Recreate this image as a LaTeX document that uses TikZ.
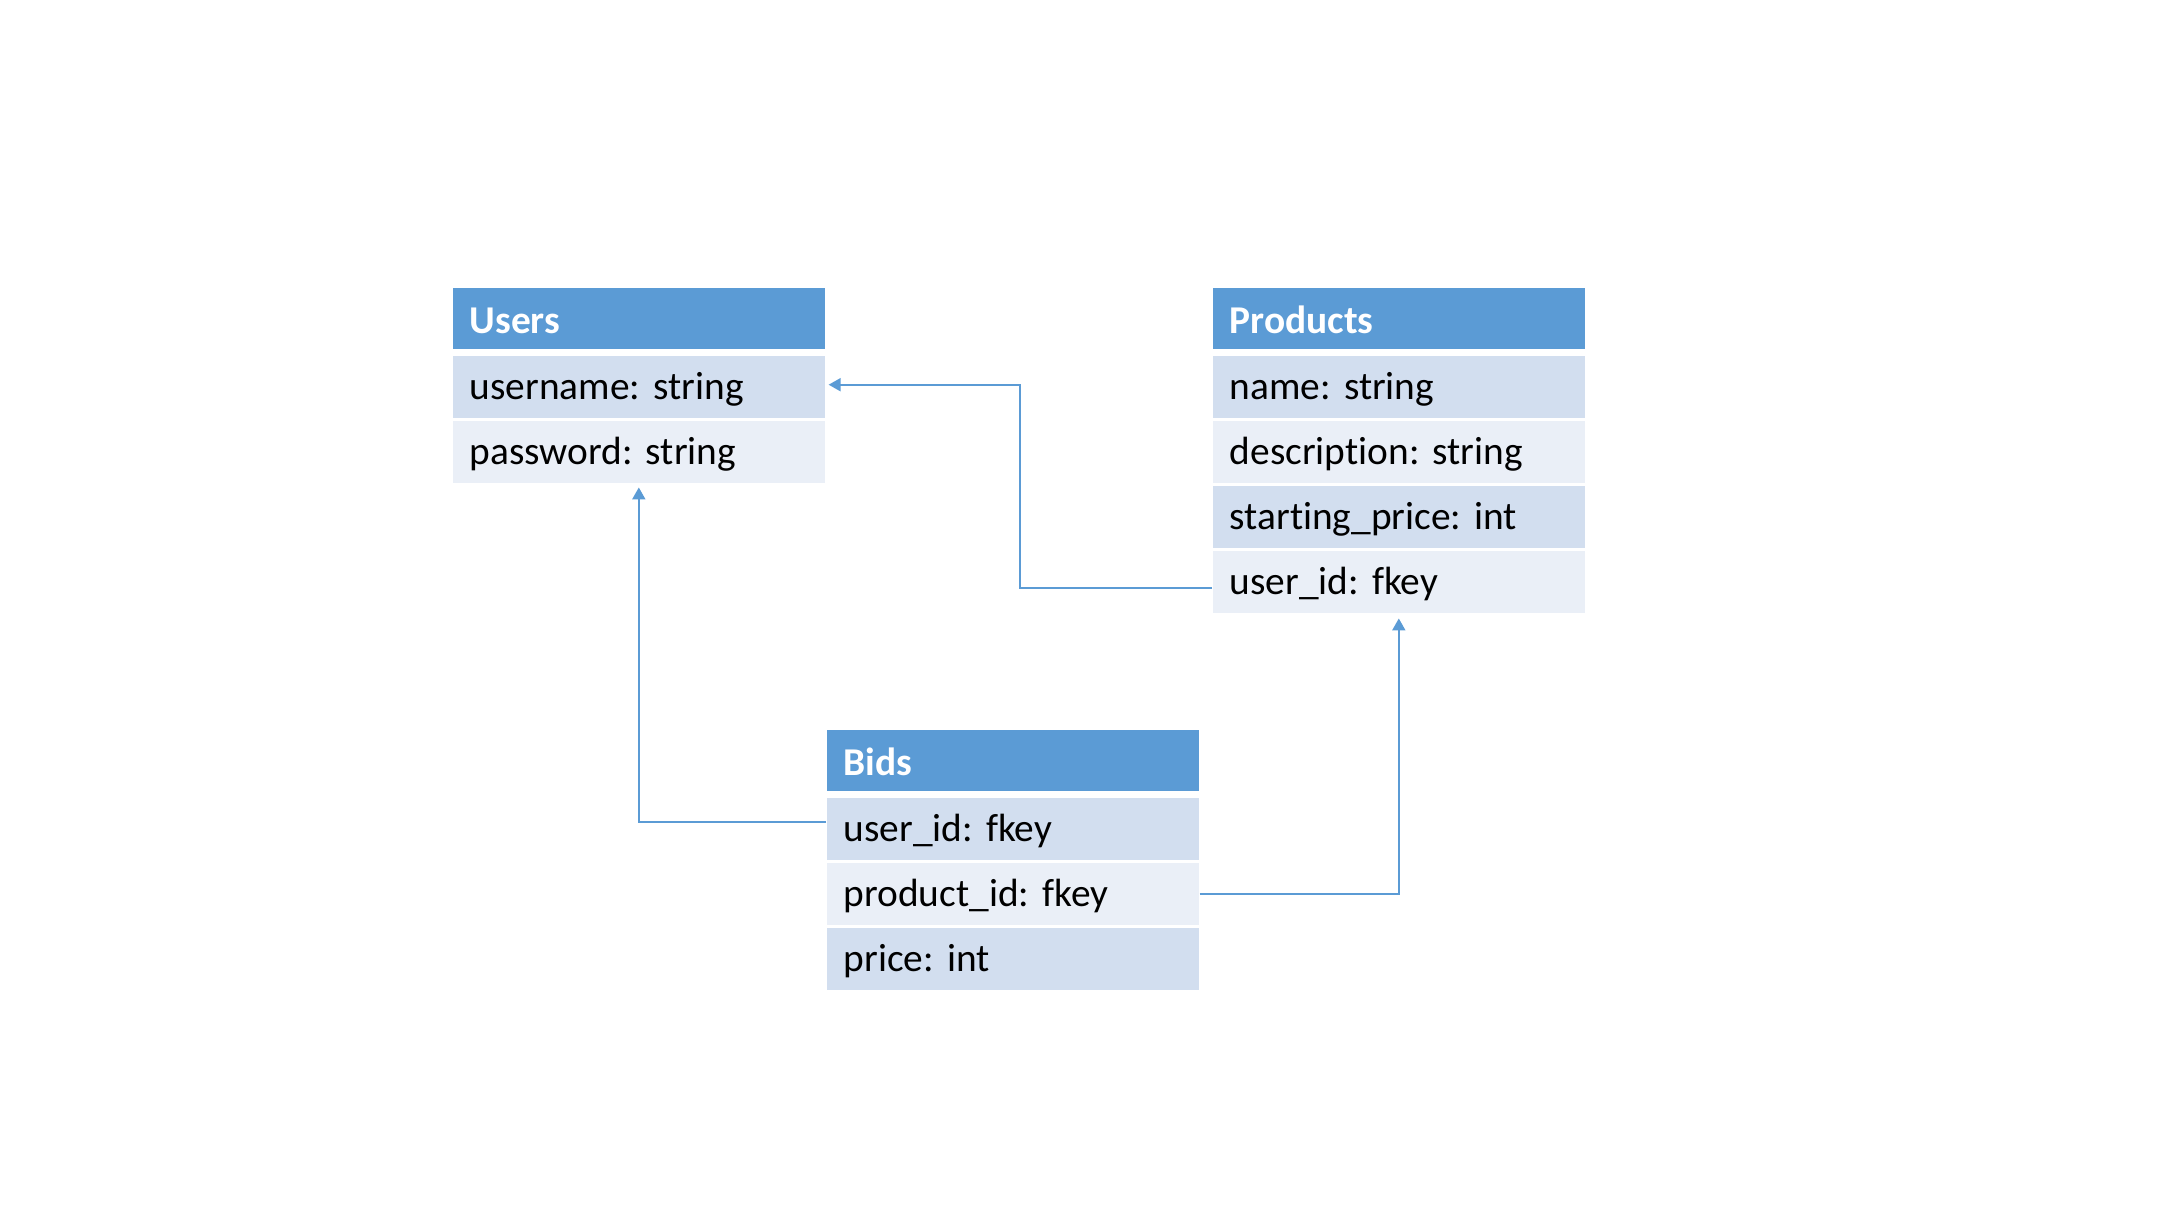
\documentclass[tikz,border=0pt]{standalone}
\usepackage{fontspec}
\setmainfont{Carlito}[Ligatures=NoCommon]
\usetikzlibrary{arrows.meta,calc}
\definecolor{hdrblue}{HTML}{5B9BD5}
\definecolor{rowdark}{HTML}{D2DEEF}
\definecolor{rowlight}{HTML}{EAEFF7}
\definecolor{linkblue}{HTML}{5B9BD5}
\tikzset{
  cellbase/.style={anchor=north west, inner xsep=0.17cm, inner ysep=0pt,
    text width=3.38cm, align=left, minimum width=3.72cm,
    text height=10pt, text depth=2.6pt,
    font=\frenchspacing\fontsize{11.2pt}{13pt}\selectfont},
  hdr/.style={cellbase, fill=hdrblue, text=white, minimum height=0.61cm,
    text depth=1.4pt,
    font=\frenchspacing\fontsize{11.2pt}{13pt}\selectfont\bfseries},
  rowA/.style={cellbase, fill=rowdark, text=black, minimum height=0.62cm},
  rowB/.style={cellbase, fill=rowlight, text=black, minimum height=0.62cm},
  conn/.style={draw=linkblue, line width=0.5pt,
    -{Triangle[length=3.4pt,width=3.7pt]}}
}
\begin{document}
\begin{tikzpicture}[x=0.01cm,y=-0.01cm]
\useasboundingbox (0,0) rectangle (2160,1215);
% Users
\node[hdr]  (users) at (452,287) {Users};
\node[rowA] (uname) at (452,355) {username: string};
\node[rowB] (upass) at (452,420) {password: string};
% Products
\node[hdr]  (prod)  at (1212,287) {Products};
\node[rowA] (pname) at (1212,355) {name: string};
\node[rowB] (pdesc) at (1212,420) {description: string};
\node[rowA] (pstart) at (1212,485) {starting\_price: int};
\node[rowB] (puid)  at (1212,550) {user\_id: fkey};
% Bids
\node[hdr]  (bids)  at (826,729) {Bids};
\node[rowA] (buid)  at (826,797) {user\_id: fkey};
\node[rowB] (bpid)  at (826,862) {product\_id: fkey};
\node[rowA] (bprice) at (826,927) {price: int};
% junction
\coordinate (j1) at (1020,0);
% connectors
\draw[conn] ([yshift=-0.06cm]puid.west) -- ([yshift=-0.06cm]puid.west -| j1) -- ([yshift=0.02cm]j1 |- uname.east) -- ([xshift=0.03cm,yshift=0.02cm]uname.east);
\draw[conn] ([yshift=0.07cm]buid.west) -| ([yshift=-0.04cm]upass.south);
\draw[conn] (bpid.east) -| ([yshift=-0.05cm]puid.south);
\end{tikzpicture}
\end{document}
